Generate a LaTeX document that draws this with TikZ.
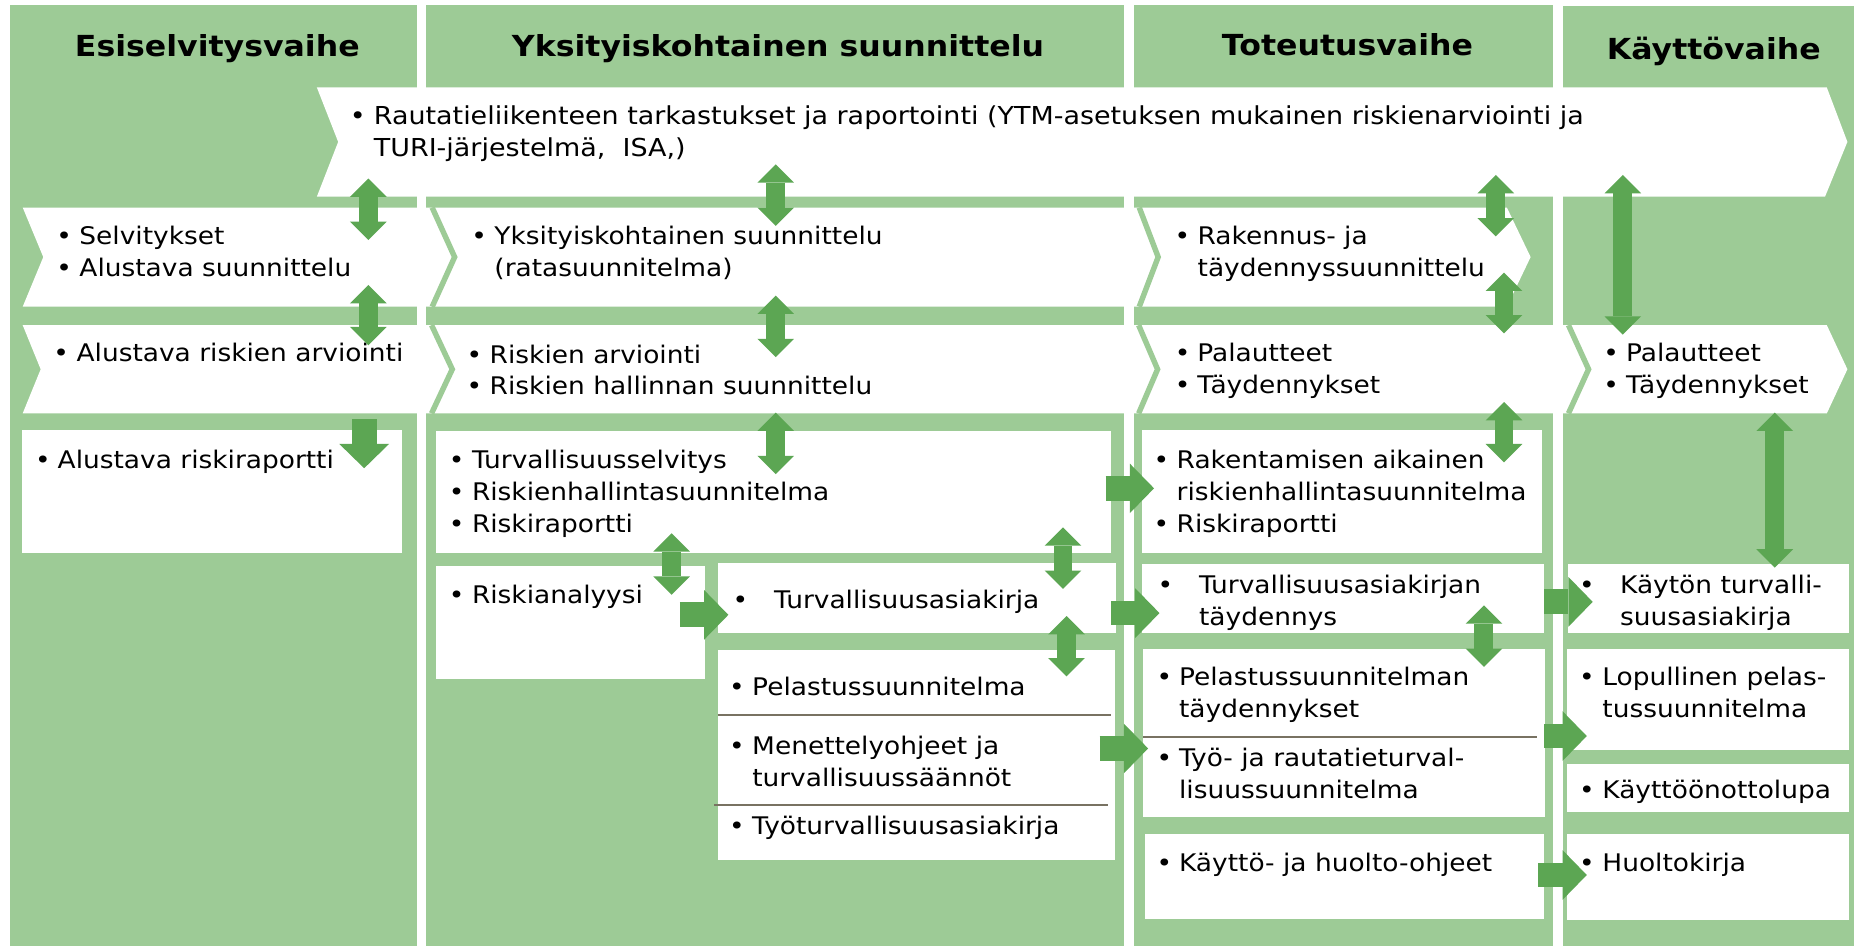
\documentclass[tikz,border=0pt]{standalone}
\usepackage{fontspec}
\setmainfont{DejaVu Sans}[FakeStretch=1.09]
\usetikzlibrary{arrows.meta}

\definecolor{bandgreen}{RGB}{157,203,150}
\definecolor{arrowgreen}{RGB}{92,166,83}
\definecolor{rulegray}{RGB}{120,114,98}

% bullet placed at the line start, text begins #1 further right
\newcommand\bul[1][13pt]{\makebox[#1][l]{\makebox[0pt][c]{\textbullet}}}
\newcommand\cont[1][13pt]{\hspace*{#1}}
\newcommand\lines[1]{\begin{tabular}[t]{@{}l@{}}#1\end{tabular}}

\tikzset{
  column/.style={fill=bandgreen, draw=none},
  panel/.style={fill=white, draw=none},
  notch/.style={draw=bandgreen, line width=4.6pt, line join=miter},
  divider/.style={draw=rulegray, line width=1.5pt},
  txt/.style={anchor=base west, inner sep=0pt, font=\fontsize{20.5}{27}\selectfont},
  bannertxt/.style={txt, font=\fontsize{20.9}{27.5}\selectfont},
  head/.style={anchor=base, inner sep=0pt, font=\fontsize{24.5}{29}\selectfont\bfseries},
  dbl/.style={draw=arrowgreen, line width=16pt,
    {Triangle[width=31pt,length=15.5pt,line width=0pt]}-{Triangle[width=31pt,length=15.5pt,line width=0pt]}},
  fwd/.style={draw=arrowgreen, line width=21pt,
    -{Triangle[width=42pt,length=20.5pt,line width=0pt]}},
}

\begin{document}
\begin{tikzpicture}[x=1pt,y=-1pt]
\useasboundingbox (0,0) rectangle (1568,800);

% phase columns
\path[column] (8.5,4.5) rectangle (352.5,800);
\path[column] (360.3,4.5) rectangle (950.6,800);
\path[column] (959,4.5) rectangle (1313,800);
\path[column] (1322,5) rectangle (1568,800);

% long banner across the phases
\path[panel] (268,74) -- (1545,74) -- (1562.4,120) -- (1543.5,166.3)
  -- (268,166.3) -- (286,120) -- cycle;

% chevron rows
\path[panel] (19.2,175.5) -- (1274.4,175.5) -- (1294.5,217.4) -- (1274.4,259.4)
  -- (19.2,259.4) -- (36.6,217.4) -- cycle;
\path[panel] (19.2,275) -- (1545,275) -- (1562.4,312.3) -- (1545,349.6)
  -- (19.2,349.6) -- (34.4,312.3) -- cycle;
\draw[notch] (365.5,175.5) -- (384.5,217.4) -- (365.5,259.4);
\draw[notch] (963.5,175.5) -- (979.5,217.4) -- (963.5,259.4);
\draw[notch] (365,275) -- (382.5,312.3) -- (365,349.6);
\draw[notch] (963,275) -- (979,312.3) -- (963,349.6);
\draw[notch] (1326.5,275) -- (1343.5,312.3) -- (1326.5,349.6);

% document boxes
\path[panel] (18.6,364) rectangle (340,468);
\path[panel] (369,364.5) rectangle (940,468);
\path[panel] (369,479) rectangle (596.5,574);
\path[panel] (607.5,476.5) rectangle (944,535);
\path[panel] (607,549.7) rectangle (943,727);
\path[panel] (965.5,364) rectangle (1304.5,468);
\path[panel] (965.5,477) rectangle (1306,535);
\path[panel] (967,549) rectangle (1307,691);
\path[panel] (968,705) rectangle (1306,777);
\path[panel] (1326,477) rectangle (1564,535);
\path[panel] (1325,549) rectangle (1564,634);
\path[panel] (1325,646) rectangle (1564,687);
\path[panel] (1325,705) rectangle (1564,778);

\draw[divider] (607,605) -- (940,605);
\draw[divider] (604,681) -- (937,681);
\draw[divider] (967,623) -- (1300,623);

% headings
\node[head] (h1) at (183.8,48) {Esiselvitysvaihe};
\node[head] (h2) at (658,48) {Yksityiskohtainen suunnittelu};
\node[head] (h3) at (1139.6,47) {Toteutusvaihe};
\node[head] (h4) at (1449.4,50) {Käyttövaihe};

% texts
\node[bannertxt] (ban) at (302.4,105) {\lines{\bul[13.6pt]Rautatieliikenteen tarkastukset ja raportointi (YTM-asetuksen mukainen riskienarviointi ja\\
  \cont[13.6pt]TURI-järjestelmä,\ \ ISA,)}};

\node[txt] (c1a) at (54,207) {\lines{\bul Selvitykset\\ \bul Alustava suunnittelu}};
\node[txt] (c1b) at (51.6,306) {\lines{\bul Alustava riskien arviointi}};
\node[txt] (c1c) at (36,396) {\lines{\bul[12.6pt]Alustava riskiraportti}};

\node[txt] (c2a) at (405,207) {\lines{\bul Yksityiskohtainen suunnittelu\\ \cont(ratasuunnitelma)}};
\node[txt] (c2b) at (401,307) {\lines{\bul Riskien arviointi\\ \bul Riskien hallinnan suunnittelu}};
\node[txt] (c2c) at (386,396) {\lines{\bul Turvallisuusselvitys\\ \bul Riskienhallintasuunnitelma\\ \bul Riskiraportti}};
\node[txt] (c2d) at (386,510.5) {\lines{\bul Riskianalyysi}};
\node[txt] (c2e) at (626,515) {\lines{\bul[28.5pt]Turvallisuusasiakirja}};
\node[txt] (c2f) at (623,588.5) {\lines{\bul Pelastussuunnitelma}};
\node[txt] (c2g) at (623,638.5) {\lines{\bul Menettelyohjeet ja\\ \cont turvallisuussäännöt}};
\node[txt] (c2h) at (623,706) {\lines{\bul Työturvallisuusasiakirja}};

\node[txt] (c3a) at (999.7,207) {\lines{\bul Rakennus- ja\\ \cont täydennyssuunnittelu}};
\node[txt] (c3b) at (1000,306) {\lines{\bul[12.5pt]Palautteet\\ \bul[12.5pt]Täydennykset}};
\node[txt] (c3c) at (982,396) {\lines{\bul Rakentamisen aikainen\\ \cont riskienhallintasuunnitelma\\ \bul Riskiraportti}};
\node[txt] (c3d) at (985.5,501.6) {\lines{\bul[28.4pt]Turvallisuusasiakirjan\\ \cont[28.4pt]täydennys}};
\node[txt] (c3e) at (984.6,579.5) {\lines{\bul[12.4pt]Pelastussuunnitelman\\ \cont[12.4pt]täydennykset}};
\node[txt] (c3f) at (984.6,648.6) {\lines{\bul[12.4pt]Työ- ja rautatieturval-\\ \cont[12.4pt]lisuussuunnitelma}};
\node[txt] (c3g) at (984.6,737) {\lines{\bul[12.4pt]Käyttö- ja huolto-ohjeet}};

\node[txt] (c4a) at (1362.5,306) {\lines{\bul[12.5pt]Palautteet\\ \bul[12.5pt]Täydennykset}};
\node[txt] (c4b) at (1342,501.6) {\lines{\bul[28pt]Käytön turvalli-\\ \cont[28pt]suusasiakirja}};
\node[txt] (c4c) at (1342,579.5) {\lines{\bul Lopullinen pelas-\\ \cont tussuunnitelma}};
\node[txt] (c4d) at (1342,675) {\lines{\bul Käyttöönottolupa}};
\node[txt] (c4e) at (1342,737) {\lines{\bul Huoltokirja}};

% arrow end points
\coordinate (v1a) at (311.5,151);   \coordinate (v1b) at (311.5,203);
\coordinate (v2a) at (311.5,241);   \coordinate (v2b) at (311.5,292);
\coordinate (v3a) at (308,354.6);   \coordinate (v3b) at (308,396);
\coordinate (v4a) at (656,139);     \coordinate (v4b) at (656,191);
\coordinate (v5a) at (656,250);     \coordinate (v5b) at (656,302);
\coordinate (v6a) at (656,349);     \coordinate (v6b) at (656,401);
\coordinate (v7a) at (568,451);     \coordinate (v7b) at (568,503);
\coordinate (v8a) at (899,446);     \coordinate (v8b) at (899,498);
\coordinate (v9a) at (902,521);     \coordinate (v9b) at (902,572);
\coordinate (v10a) at (1265,148);   \coordinate (v10b) at (1265,200);
\coordinate (v11a) at (1272,230.6); \coordinate (v11b) at (1272,282);
\coordinate (v12a) at (1272,340);   \coordinate (v12b) at (1272,391);
\coordinate (v13a) at (1255,512);   \coordinate (v13b) at (1255,564);
\coordinate (v14a) at (1372.5,148); \coordinate (v14b) at (1372.5,283);
\coordinate (v15a) at (1501,349);   \coordinate (v15b) at (1501,480);

\coordinate (r1a) at (575,520);     \coordinate (r1b) at (616,520);
\coordinate (r2a) at (935,413);     \coordinate (r2b) at (976,413);
\coordinate (r3a) at (940,518.5);   \coordinate (r3b) at (980.6,518.5);
\coordinate (r4a) at (930,633);     \coordinate (r4b) at (971,633);
\coordinate (r5a) at (1306,509);    \coordinate (r5b) at (1347,509);
\coordinate (r6a) at (1306,622.5);  \coordinate (r6b) at (1342,622.5);
\coordinate (r7a) at (1301,740);    \coordinate (r7b) at (1342,740);

% arrows
\foreach \i in {1,2,4,5,6,7,8,9,10,11,12,13,14,15}
  \draw[dbl] (v\i a) -- (v\i b);
\draw[fwd] (v3a) -- (v3b);
\foreach \i in {1,...,7}
  \draw[fwd] (r\i a) -- (r\i b);
\end{tikzpicture}
\end{document}
